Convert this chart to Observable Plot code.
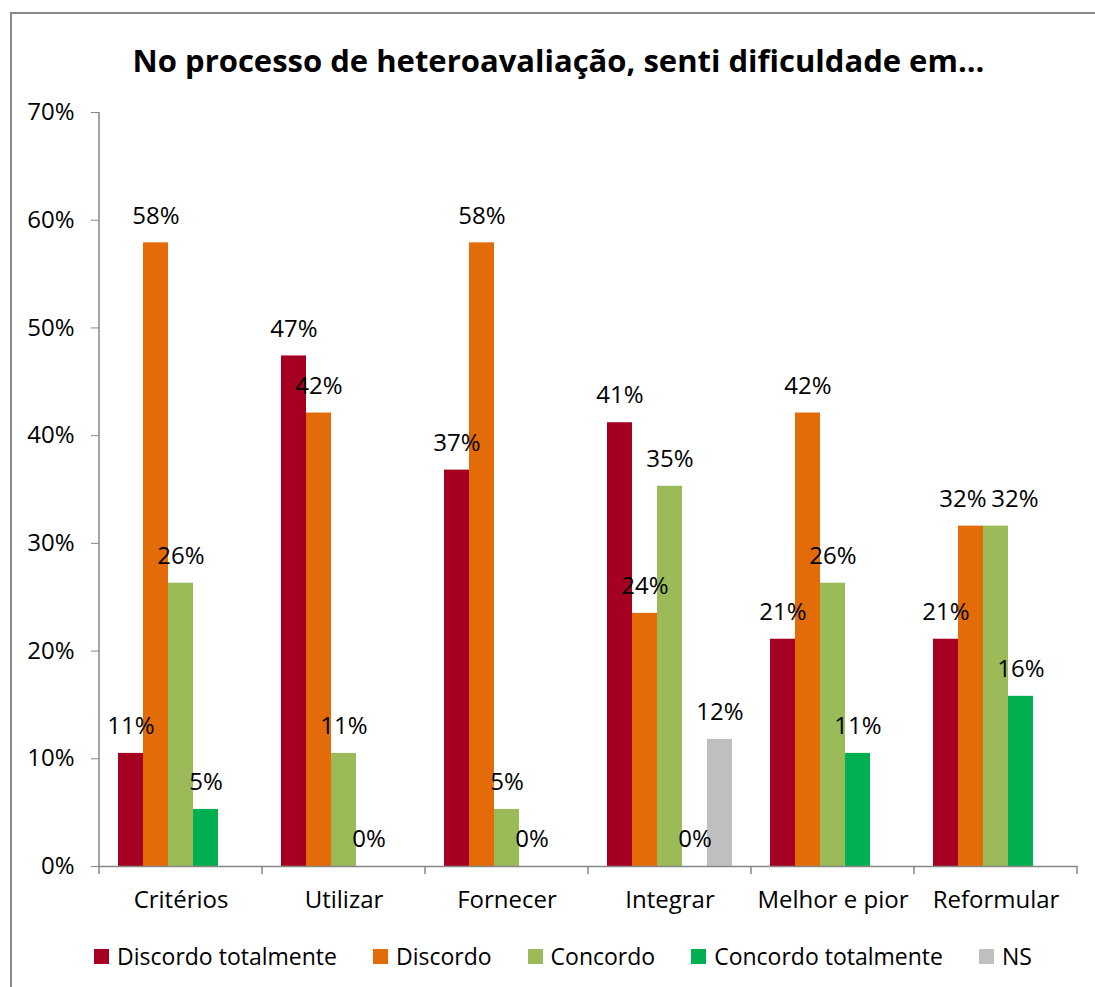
<!DOCTYPE html>
<html>
<head>
<meta charset="utf-8">
<script src="https://cdn.jsdelivr.net/npm/d3@7"></script>
<script src="https://cdn.jsdelivr.net/npm/@observablehq/plot@0.6"></script>
<style>
  html, body { margin: 0; padding: 0; background: #fff; }
  body { width: 1095px; height: 987px; position: relative; overflow: hidden; font-family: "Open Sans", sans-serif; }
  #border { position: absolute; left: 10px; top: 12px; width: 1120px; height: 1020px; border: 2px solid #8a8a8a; box-sizing: border-box; }
  #title { position: absolute; left: 22px; width: 1073px; top: 40px; line-height: 40px; text-align: center; font-weight: bold; font-size: 31px; color: #000; }
  #chart { position: absolute; left: 0; top: 90px; }
  #legend { position: absolute; left: 22px; width: 1082px; top: 941px; height: 30px; display: flex; justify-content: center; align-items: center; gap: 36px; font-size: 23px; color: #000; }
  .item { display: flex; align-items: center; }
  .sw { width: 15px; height: 15px; margin-right: 8px; }
  svg g[aria-label="y-axis tick"] path { stroke: #868686; }
</style>
</head>
<body>
<div id="border"></div>
<div id="title">No processo de heteroavaliação, senti dificuldade em...</div>
<div id="chart"></div>
<div id="legend"></div>
<script>
const categories = ["Critérios", "Utilizar", "Fornecer", "Integrar", "Melhor e pior", "Reformular"];
const series = ["Discordo totalmente", "Discordo", "Concordo", "Concordo totalmente", "NS"];
const colors = ["#A50021", "#E36C09", "#9BBB59", "#00B050", "#BFBFBF"];
const discordoTotalmente = [10.5, 47.4, 36.8, 41.2, 21.1, 21.1];
const discordo = [57.9, 42.1, 57.9, 23.5, 42.1, 31.6];
const concordo = [26.3, 10.5, 5.3, 35.3, 26.3, 31.6];
const concordoTotalmente = [5.3, 0, 0, 0, 10.5, 15.8];
const ns = [null, null, null, 11.8, null, null];
const yTicks = [0, 0.1, 0.2, 0.3, 0.4, 0.5, 0.6, 0.7];

const seriesValues = [discordoTotalmente, discordo, concordo, concordoTotalmente, ns];
const rows = [];
categories.forEach((c, i) => {
  series.forEach((s, j) => {
    const v = seriesValues[j][i];
    if (v !== null && v !== undefined) rows.push({category: c, series: s, value: v / 100});
  });
});

const pct = d => Math.round(d * 100) + "%";
// the two touching labels of "Reformular" are nudged apart, as in the original
const isLeftNudge = d => d.category === "Reformular" && d.series === "Discordo";
const isRightNudge = d => d.category === "Reformular" && d.series === "Concordo";
const plain = rows.filter(d => !isLeftNudge(d) && !isRightNudge(d));
const textOpts = {fx: "category", x: "series", y: "value", text: d => pct(d.value), dy: -27, fill: "#000"};

const plot = Plot.plot({
  width: 1095,
  height: 826,
  marginTop: 22,
  marginBottom: 50,
  marginLeft: 98,
  marginRight: 18,
  style: {fontFamily: "'Open Sans', sans-serif", fontSize: "24px", color: "#000", background: "transparent", overflow: "visible"},
  fx: {domain: categories, padding: 0, label: null, tickSize: 0, tickPadding: 24},
  x: {domain: series, paddingInner: 0, paddingOuter: 0.72, axis: null},
  y: {domain: [0, 0.7], ticks: yTicks, tickFormat: pct, tickSize: 8, tickPadding: 17, label: null},
  color: {domain: series, range: colors},
  marks: [
    Plot.barY(rows, {fx: "category", x: "series", y: "value", fill: "series"}),
    Plot.ruleY([0], {stroke: "#868686", strokeWidth: 1.5}),
    Plot.text(plain, textOpts),
    Plot.text(rows.filter(isLeftNudge), {...textOpts, dx: -8}),
    Plot.text(rows.filter(isRightNudge), {...textOpts, dx: 19})
  ]
});
document.getElementById("chart").appendChild(plot);

// axis line and category boundary ticks, positioned via the plot's own scales
const svg = d3.select(plot.tagName.toLowerCase() === "svg" ? plot : plot.querySelector("svg"));
const yS = plot.scale("y");
const fxS = plot.scale("fx");
const y0 = yS.apply(0), yTop = yS.apply(0.7);
const g = svg.append("g").attr("stroke", "#868686").attr("stroke-width", 1.5);
const left = fxS.apply(categories[0]);
g.append("line").attr("x1", left).attr("x2", left).attr("y1", yTop).attr("y2", y0);
const bounds = categories.map(c => fxS.apply(c));
bounds.push(fxS.apply(categories[categories.length - 1]) + fxS.bandwidth);
bounds.forEach(b => g.append("line").attr("x1", b).attr("x2", b).attr("y1", y0).attr("y2", y0 + 8));

// legend
const legend = document.getElementById("legend");
series.forEach((s, i) => {
  const it = document.createElement("div");
  it.className = "item";
  it.innerHTML = `<span class="sw" style="background:${colors[i]}"></span><span>${s}</span>`;
  legend.appendChild(it);
});
</script>
</body>
</html>
